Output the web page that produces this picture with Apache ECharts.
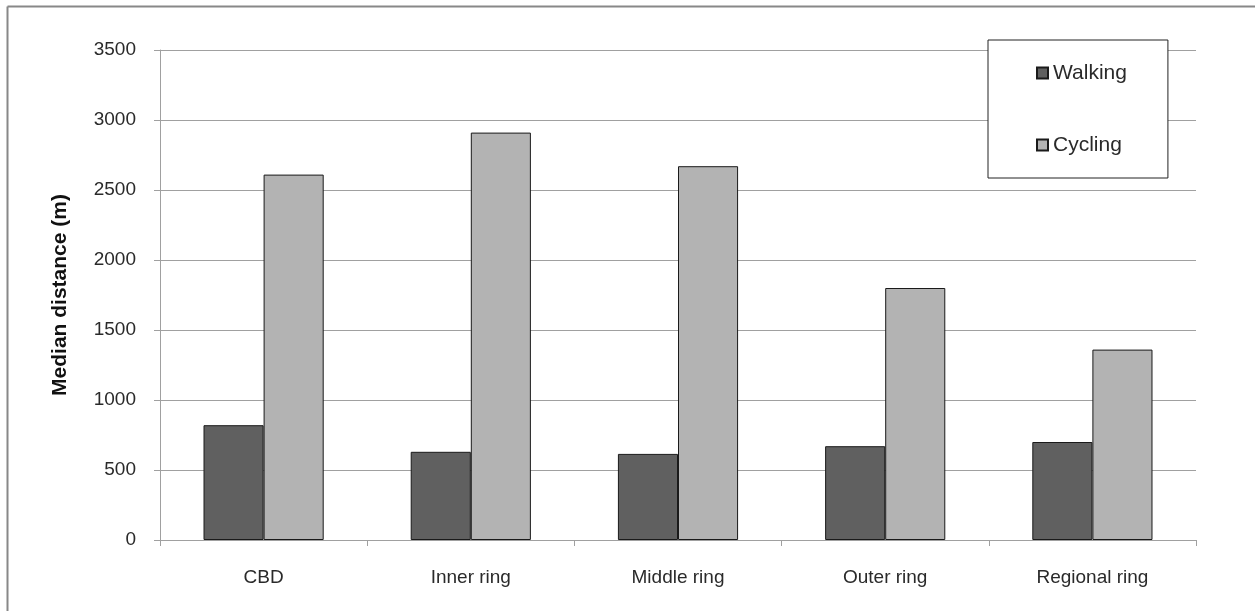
<!DOCTYPE html>
<html>
<head>
<meta charset="utf-8">
<script src="https://cdn.jsdelivr.net/npm/echarts@6/dist/echarts.min.js"></script>
<style>
html,body{margin:0;padding:0;background:#fff;}
#c{width:1255px;height:611px;}
</style>
</head>
<body>
<div id="c"></div>
<script>
const categories = ['CBD', 'Inner ring', 'Middle ring', 'Outer ring', 'Regional ring'];
const walking = [820, 630, 615, 670, 700];
const cycling = [2610, 2910, 2670, 1800, 1360];
const seriesNames = ['Walking', 'Cycling'];

const chart = echarts.init(document.getElementById('c'), null, {renderer: 'canvas'});
const font = '"Liberation Sans", Arial, sans-serif';
chart.setOption({
  animation: false,
  backgroundColor: '#fff',
  textStyle: {fontFamily: font},
  graphic: [
    {type: 'line', shape: {x1: 7.5, y1: 6.5, x2: 1255, y2: 6.5}, style: {stroke: '#888', lineWidth: 2}},
    {type: 'line', shape: {x1: 7.5, y1: 6.5, x2: 7.5, y2: 611}, style: {stroke: '#888', lineWidth: 2}}
  ],
  grid: {left: 160, top: 50, width: 1036, height: 490, containLabel: false},
  legend: {
    orient: 'vertical',
    left: 988, top: 40,
    padding: [21, 41, 21, 48],
    itemGap: 48,
    itemWidth: 11, itemHeight: 11,
    borderColor: '#222', borderWidth: 1,
    backgroundColor: '#fff',
    icon: 'rect',
    textStyle: {fontFamily: font, fontSize: 21, color: '#2a2a2a', lineHeight: 24},
    data: seriesNames
  },
  xAxis: {
    type: 'category',
    data: categories,
    axisLine: {lineStyle: {color: '#a0a0a0', width: 1}},
    axisTick: {show: true, alignWithLabel: false, length: 6, lineStyle: {color: '#a0a0a0'}},
    axisLabel: {fontFamily: font, fontSize: 19, color: '#2a2a2a', margin: 28}
  },
  yAxis: {
    type: 'value',
    min: 0, max: 3500, interval: 500,
    name: 'Median distance (m)',
    nameLocation: 'middle',
    nameGap: 89,
    nameTextStyle: {fontFamily: font, fontSize: 21, fontWeight: 'bold', color: '#111'},
    axisLine: {show: true, lineStyle: {color: '#a0a0a0', width: 1}},
    axisTick: {show: true, length: 6, lineStyle: {color: '#a0a0a0'}},
    axisLabel: {fontFamily: font, fontSize: 19, color: '#2a2a2a', margin: 24, formatter: function (v) { return String(v); }},
    splitLine: {lineStyle: {color: '#a0a0a0', width: 1}}
  },
  series: [
    {
      name: seriesNames[0], type: 'bar', data: walking,
      barGap: '0%', barCategoryGap: '42%',
      itemStyle: {color: '#606060', borderColor: '#1a1a1a', borderWidth: 1}
    },
    {
      name: seriesNames[1], type: 'bar', data: cycling,
      barGap: '0%', barCategoryGap: '42%',
      itemStyle: {color: '#b3b3b3', borderColor: '#1a1a1a', borderWidth: 1}
    }
  ]
});
</script>
</body>
</html>
